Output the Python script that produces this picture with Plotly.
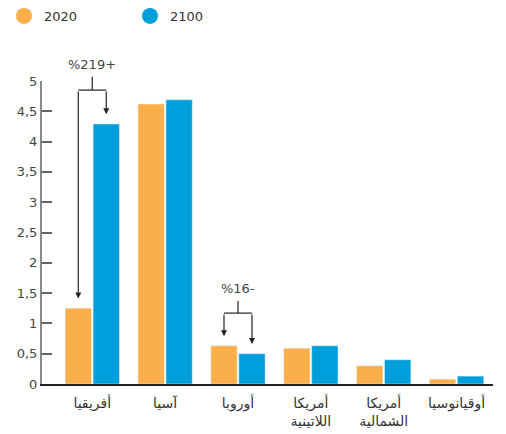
import plotly.graph_objects as go

categories = ["أفريقيا", "آسيا", "أوروبا", "أمريكا<br>اللاتينية", "أمريكا<br>الشمالية", "أوقيانوسيا"]
values_2020 = [1.25, 4.62, 0.63, 0.59, 0.30, 0.08]
values_2100 = [4.29, 4.69, 0.50, 0.63, 0.40, 0.13]
series_names = ["2020", "2100"]
tick_vals = [0, 0.5, 1, 1.5, 2, 2.5, 3, 3.5, 4, 4.5, 5]
change_labels = {0: "%219+", 2: "%16-"}

ORANGE = "#FAAF4B"
BLUE = "#009FDB"
FONT = "DejaVu Sans"

fig = go.Figure()
fig.add_trace(go.Bar(x=categories, y=values_2020, name=series_names[0], marker_color=ORANGE,
                     showlegend=False))
fig.add_trace(go.Bar(x=categories, y=values_2100, name=series_names[1], marker_color=BLUE,
                     showlegend=False))
# legend entries with round symbols
for nm, col in zip(series_names, [ORANGE, BLUE]):
    fig.add_trace(go.Scatter(x=[None], y=[None], mode="markers", name=nm,
                             marker=dict(color=col, size=19, symbol="circle")))

bargap = 0.232
off = (1 - bargap) / 4

# bracket annotations
bracket_cfg = {0: dict(hy=4.85, stem_top=1.014, text_y=1.055),
               2: dict(hy=1.17, stem_top=1.37 / 5, text_y=1.58 / 5)}
shapes = []
annotations = []
line = dict(color="#222", width=1.2)
for idx, lab in change_labels.items():
    c = bracket_cfg[idx]
    xl, xr = idx - off, idx + off
    shapes.append(dict(type="line", xref="x", yref="y", x0=xl, x1=xr, y0=c["hy"], y1=c["hy"], line=line))
    shapes.append(dict(type="line", xref="x", yref="paper", x0=idx, x1=idx, y0=c["hy"] / 5, y1=c["stem_top"], line=line))
    for xv, v in [(xl, values_2020[idx]), (xr, values_2100[idx])]:
        annotations.append(dict(x=xv, y=v + 0.16, xref="x", yref="y", ax=xv, ay=c["hy"],
                                axref="x", ayref="y", text="", showarrow=True, arrowhead=2,
                                arrowsize=1, arrowwidth=1.2, arrowcolor="#222"))
    annotations.append(dict(x=idx, y=c["text_y"], xref="x", yref="paper", text=lab, showarrow=False,
                            font=dict(family=FONT, size=13, color="#444"), yanchor="middle"))

fig.update_layout(
    width=506, height=434,
    margin=dict(l=34, r=21, t=73, b=58, autoexpand=False),
    paper_bgcolor="white", plot_bgcolor="white",
    separators=",.",
    barmode="group", bargap=bargap, bargroupgap=0.06,
    font=dict(family=FONT, size=13, color="#444"),
    legend=dict(orientation="h", x=-0.0843, y=1.2145,
                xanchor="left", yanchor="middle",
                font=dict(family=FONT, size=13, color="#333"),
                entrywidth=81, entrywidthmode="pixels", itemsizing="trace"),
    shapes=shapes, annotations=annotations,
)
fig.update_xaxes(range=[-0.69, 5.5], showline=True, linecolor="#222", linewidth=1.5,
                 ticks="", showgrid=False, tickfont=dict(family=FONT, size=14, color="#333"),
                 fixedrange=True, automargin=False, ticklabelstandoff=5)
fig.update_yaxes(range=[0, 5], tickvals=tick_vals, showline=True, linecolor="#888", linewidth=2,
                 ticks="inside", ticklen=10, tickcolor="#666", tickwidth=1.5, showgrid=False,
                 zeroline=False, tickfont=dict(family=FONT, size=13, color="#444"), tickformat=",.1~f",
                 automargin=False)

fig.write_html("out.html")
